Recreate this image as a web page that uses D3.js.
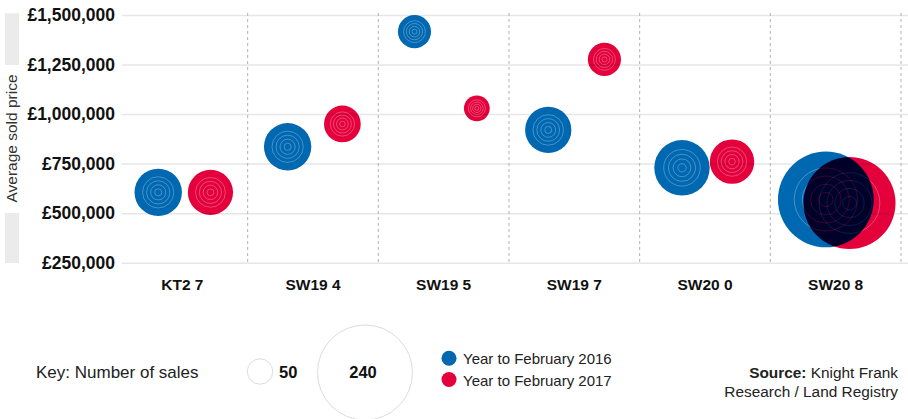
<!DOCTYPE html>
<html>
<head>
<meta charset="utf-8">
<script src="https://cdn.jsdelivr.net/npm/d3@7"></script>
<style>
  body { margin: 0; background: #fff; }
  svg { font-family: "Liberation Sans", Arial, Helvetica, sans-serif; display: block; }
</style>
</head>
<body>
<svg id="chart" width="908" height="419"></svg>
<script>
// data
const categories = ["KT2 7", "SW19 4", "SW19 5", "SW19 7", "SW20 0", "SW20 8"];
const price2016 = [605000, 835000, 1416000, 920000, 729000, 569000];
const price2017 = [605000, 950000, 1029000, 1276000, 760000, 551000];
const sales2016 = [110, 110, 71, 107, 132, 242];
const sales2017 = [104, 81, 51, 71, 102, 232];
const seriesNames = ["Year to February 2016", "Year to February 2017"];
const seriesColors = ["#0067b1", "#e4003b"];
const yTicks = [250000, 500000, 750000, 1000000, 1250000, 1500000];
const keySales = [50, 240];

var svg = d3.select("#chart");

var x = d3.scaleBand().domain(categories).range([117, 901]).padding(0);
var y = d3.scaleLinear().domain([250000, 1500000]).range([262.7, 15]);
var r = d3.scaleLinear().domain([50, 240]).range([12.7, 47.5]);

// left label panel
svg.append("rect").attr("x", 5).attr("y", 13.3).attr("width", 14).attr("height", 249.7).attr("fill", "#ebebeb");
svg.append("rect").attr("x", 4).attr("y", 65).attr("width", 16).attr("height", 148).attr("fill", "#fff");
svg.append("text")
  .attr("transform", "translate(16.5,138.5) rotate(-90)")
  .attr("text-anchor", "middle")
  .attr("font-size", 15.5)
  .attr("fill", "#333")
  .text("Average sold price");

// y axis + gridlines
var yAxis = svg.append("g")
  .attr("transform", "translate(122,0)")
  .call(d3.axisLeft(y).tickValues(yTicks).tickSize(-786).tickPadding(7)
    .tickFormat(d => "£" + d3.format(",")(d)));
yAxis.select(".domain").remove();
yAxis.selectAll(".tick line").attr("stroke", "#e6e6e6").attr("stroke-width", 1.5);
yAxis.selectAll(".tick text")
  .attr("font-size", 17.5).attr("font-weight", "bold").attr("fill", "#111")
  .attr("font-family", "'Liberation Sans', Arial, sans-serif");

// dashed band separators
svg.append("g").selectAll("line")
  .data(categories)
  .join("line")
  .attr("x1", d => x(d) + x.bandwidth())
  .attr("x2", d => x(d) + x.bandwidth())
  .attr("y1", 13)
  .attr("y2", 262)
  .attr("stroke", "#b3b3b3")
  .attr("stroke-dasharray", "3,3");

// x axis labels
var xAxis = svg.append("g")
  .attr("transform", "translate(0,263)")
  .call(d3.axisBottom(x).tickSize(0).tickPadding(16));
xAxis.select(".domain").remove();
xAxis.selectAll(".tick text")
  .attr("font-size", 15.5).attr("font-weight", "bold").attr("fill", "#111")
  .attr("font-family", "'Liberation Sans', Arial, sans-serif");

// bubbles: pair spread shrinks as bubbles grow
var rows = categories.map((c, i) => {
  var rb = r(sales2016[i]), rr = r(sales2017[i]);
  var sep = 80 - 1.2 * (rb + rr) / 2;
  var mid = x(c) + x.bandwidth() / 2 + 2;
  return [
    { cat: c, cx: mid - sep / 2, cy: y(price2016[i]), r: rb, s: 0 },
    { cat: c, cx: mid + sep / 2, cy: y(price2017[i]), r: rr, s: 1 }
  ];
});

var ringFrac = [0.15, 0.32, 0.49, 0.66];

[0, 1].forEach(s => {
  var layer = svg.append("g").style("mix-blend-mode", s === 1 ? "multiply" : "normal");
  var b = layer.selectAll("g.bubble")
    .data(rows.map(p => p[s]))
    .join("g")
    .attr("class", "bubble")
    .attr("transform", d => `translate(${d.cx},${d.cy})`);
  b.append("circle").attr("r", d => d.r).attr("fill", seriesColors[s]);
  b.selectAll("circle.ring")
    .data(d => ringFrac.map(f => f * d.r))
    .join("circle")
    .attr("class", "ring")
    .attr("r", d => d)
    .attr("fill", "none")
    .attr("stroke", "#fff")
    .attr("stroke-opacity", 0.28)
    .attr("stroke-width", 1);
});

// key
svg.append("text").attr("x", 36).attr("y", 377.5).attr("font-size", 17).attr("fill", "#222")
  .text("Key: Number of sales");

var keyPos = [{ cx: 260, cy: 371.5 }, { cx: 365, cy: 372.5 }];
keySales.forEach((n, i) => {
  svg.append("circle").attr("cx", keyPos[i].cx).attr("cy", keyPos[i].cy).attr("r", r(n))
    .attr("fill", "none").attr("stroke", "#dcdcdc").attr("stroke-width", 1);
});
svg.append("text").attr("x", 279).attr("y", 378).attr("font-size", 16.5).attr("font-weight", "bold")
  .attr("fill", "#111").text(keySales[0]);
svg.append("text").attr("x", 363).attr("y", 378).attr("text-anchor", "middle").attr("font-size", 16.5)
  .attr("font-weight", "bold").attr("fill", "#111").text(keySales[1]);

// series legend
seriesNames.forEach((name, i) => {
  var cy = 358.3 + i * 21.2;
  svg.append("circle").attr("cx", 449).attr("cy", cy).attr("r", 7.5).attr("fill", seriesColors[i]);
  svg.append("text").attr("x", 463).attr("y", cy + 6).attr("font-size", 15).attr("fill", "#222").text(name);
});

// source
var src = svg.append("text").attr("text-anchor", "end").attr("font-size", 15.4).attr("fill", "#222");
src.append("tspan").attr("x", 898).attr("y", 377.7).attr("font-weight", "bold").text("Source:");
src.append("tspan").text(" Knight Frank");
src.append("tspan").attr("x", 898).attr("y", 396.7).text("Research / Land Registry");
</script>
</body>
</html>
